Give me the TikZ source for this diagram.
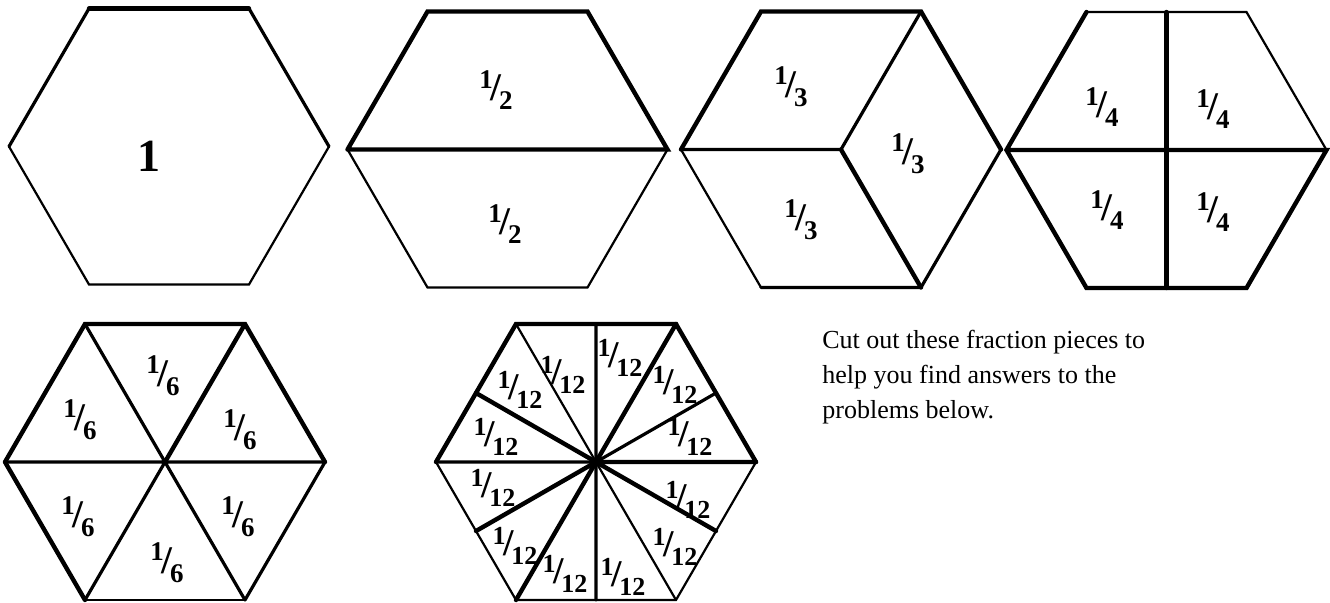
\documentclass[tikz,border=0pt]{standalone}
\usepackage{fontspec}
\setmainfont{Liberation Serif}
\usepackage{graphicx}
\usetikzlibrary{calc}

% one hexagon: name, centre x, centre y (pixel grid)
\newcommand{\hexat}[3]{%
  \coordinate (#1c)  at (#2,#3);
  \coordinate (#1l)  at (#2-160,#3);
  \coordinate (#1r)  at (#2+160,#3);
  \coordinate (#1tl) at (#2-80,#3-138);
  \coordinate (#1tr) at (#2+80,#3-138);
  \coordinate (#1bl) at (#2-80,#3+138);
  \coordinate (#1br) at (#2+80,#3+138);}
% fraction label 1/n
\newcommand{\fr}[1]{\raisebox{.45em}{1}\kern-.1em\scalebox{1.45}{/}\kern-.08em\raisebox{-.35em}{#1}}

\tikzset{
  thin edge/.style={line width=1.1pt, line cap=round},
  mid edge/.style={line width=1.6pt, line cap=round},
  bold edge/.style={line width=2.2pt, line cap=round},
  frac/.style={font=\bfseries\fontsize{13.5}{13.5}\selectfont, inner sep=0pt},
  frac12/.style={font=\bfseries\fontsize{13}{13}\selectfont, inner sep=0pt},
}

\begin{document}
\begin{tikzpicture}[x=0.5pt, y=-0.5pt]
  \useasboundingbox (0,0) rectangle (1330,602);

  \hexat{A}{169}{146.5}
  \hexat{B}{507.5}{149.5}
  \hexat{C}{841}{149.5}
  \hexat{D}{1166.5}{150}
  \hexat{E}{165}{462}
  \hexat{F}{596}{462}

  % whole
  \draw[bold edge] (Atl) -- (Atr);
  \draw[mid edge] (Al) -- (Atl) (Atr) -- (Ar);
  \draw[thin edge] (Ar) -- (Abr) -- (Abl) -- (Al);
  \node[font=\bfseries\fontsize{23}{23}\selectfont] (one) at (149,156) {1};

  % halves
  \draw[bold edge] (Bl) -- (Btl) -- (Btr) -- (Br) -- (Bl);
  \draw[thin edge] (Br) -- (Bbr) -- (Bbl) -- (Bl);
  \node[frac] (half1) at (496,90) {\fr{2}};
  \node[frac] (half2) at (505,224) {\fr{2}};

  % thirds
  \draw[bold edge] (Cl) -- (Ctl) -- (Ctr) -- (Cr) (Cc) -- (Cbr);
  \draw[mid edge] (Cl) -- (Cc) -- (Ctr) (Cr) -- (Cbr) -- (Cbl);
  \draw[thin edge] (Cbl) -- (Cl);
  \node[frac] (third1) at (791,87) {\fr{3}};
  \node[frac] (third2) at (908,154) {\fr{3}};
  \node[frac] (third3) at (801,220) {\fr{3}};

  % quarters
  \draw[thin edge] (Dl) -- (Dtl) -- (Dtr) -- (Dr);
  \draw[bold edge] (Dtl) -- (Dl) -- (Dbl) -- (Dbr) -- (Dr) -- (Dl);
  \draw[bold edge] ($(Dtl)!0.5!(Dtr)$) -- ($(Dbl)!0.5!(Dbr)$);
  \node[frac] (quarter1) at (1102,107) {\fr{4}};
  \node[frac] (quarter2) at (1213,109) {\fr{4}};
  \node[frac] (quarter3) at (1107,210) {\fr{4}};
  \node[frac] (quarter4) at (1213,212) {\fr{4}};

  % sixths
  \draw[bold edge] (El) -- (Etl) -- (Etr) -- (Er) (El) -- (Ebl) (Etr) -- (Ec);
  \draw[mid edge] (Er) -- (Ebr) (El) -- (Er) (Etl) -- (Ebr) (Ec) -- (Ebl);
  \draw[thin edge] (Ebl) -- (Ebr);
  \node[frac] (sixth1) at (163,376) {\fr{6}};
  \node[frac] (sixth2) at (80,420) {\fr{6}};
  \node[frac] (sixth3) at (240,430) {\fr{6}};
  \node[frac] (sixth4) at (78,517) {\fr{6}};
  \node[frac] (sixth5) at (238,517) {\fr{6}};
  \node[frac] (sixth6) at (167,563) {\fr{6}};

  % twelfths
  \draw[bold edge] (Fl) -- (Ftl) -- (Ftr) -- (Fr);
  \draw[thin edge] (Fl) -- (Fbl) -- (Fbr) -- (Fr);
  \draw[bold edge] (Fc) -- ($(Ftl)!0.5!(Fl)$) (Fc) -- ($(Fl)!0.5!(Fbl)$) (Fc) -- (Fbl)
    (Fc) -- ($(Fbr)!0.5!(Fr)$) (Fc) -- (Fr) (Fc) -- (Ftr);
  \draw[mid edge] (Fc) -- (Fl) (Fc) -- ($(Fbl)!0.5!(Fbr)$) (Fc) -- ($(Ftr)!0.5!(Fr)$)
    (Fc) -- ($(Ftl)!0.5!(Ftr)$);
  \draw[thin edge] (Fc) -- (Ftl) (Fc) -- (Fbr);
  \node[frac12] (twelfth1) at (563,375) {\fr{12}};
  \node[frac12] (twelfth2) at (620,358) {\fr{12}};
  \node[frac12] (twelfth3) at (675,385) {\fr{12}};
  \node[frac12] (twelfth4) at (690,437) {\fr{12}};
  \node[frac12] (twelfth5) at (688,500) {\fr{12}};
  \node[frac12] (twelfth6) at (675,547) {\fr{12}};
  \node[frac12] (twelfth7) at (623,577) {\fr{12}};
  \node[frac12] (twelfth8) at (565,574) {\fr{12}};
  \node[frac12] (twelfth9) at (515,546) {\fr{12}};
  \node[frac12] (twelfth10) at (493,488) {\fr{12}};
  \node[frac12] (twelfth11) at (496,437) {\fr{12}};
  \node[frac12] (twelfth12) at (520,390) {\fr{12}};

  \node[anchor=north west, inner sep=0pt, align=left,
        font=\fontsize{13}{17.5}\selectfont] (note) at (822,330)
    {Cut out these fraction pieces to\\help you find answers to the\\problems below.};
\end{tikzpicture}
\end{document}
